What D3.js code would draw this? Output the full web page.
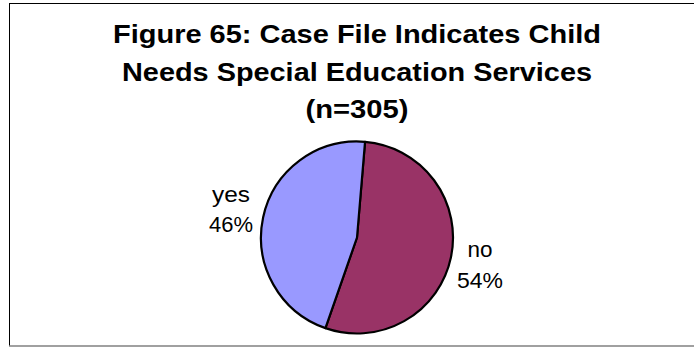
<!DOCTYPE html>
<html>
<head>
<meta charset="utf-8">
<script src="https://cdn.jsdelivr.net/npm/d3@7"></script>
<style>
  html, body { margin: 0; padding: 0; background: #fff; }
  svg { display: block; }
</style>
</head>
<body>
<svg id="chart" width="694" height="347"></svg>
<script>
const titleLines = ["Figure 65: Case File Indicates Child", "Needs Special Education Services", "(n=305)"];
const categories = ["no", "yes"];
const values = [54, 46];
const valueLabels = ["54%", "46%"];
const colors = ["#993366", "#9999FF"];

const svg = d3.select("#chart");

// frame
svg.append("line").attr("x1", 9.5).attr("x2", 9.5).attr("y1", 3.5).attr("y2", 346).attr("stroke", "#000").attr("stroke-width", 1);
svg.append("line").attr("x1", 9).attr("x2", 694).attr("y1", 3.5).attr("y2", 3.5).attr("stroke", "#000").attr("stroke-width", 1);
svg.append("line").attr("x1", 9).attr("x2", 694).attr("y1", 346).attr("y2", 346).attr("stroke", "#808080").attr("stroke-width", 1.5);

// title
const titleY = [43, 80.5, 117.5];
const titleW = [488, 470, 103];
svg.append("g").selectAll("text").data(titleLines).join("text")
  .attr("x", 357)
  .attr("y", (d, i) => titleY[i])
  .attr("text-anchor", "middle")
  .attr("font-family", "'Liberation Sans', Arial, sans-serif")
  .attr("font-weight", "bold")
  .attr("font-size", 26.5)
  .attr("textLength", (d, i) => titleW[i])
  .attr("lengthAdjust", "spacingAndGlyphs")
  .attr("fill", "#000")
  .text(d => d);

// pie
const cx = 357, cy = 237.5, r = 96;
const startDeg = 4.8;
const pie = d3.pie().sort(null)
  .startAngle(startDeg * Math.PI / 180)
  .endAngle((startDeg + 360) * Math.PI / 180);
const arcs = pie(values);
const arc = d3.arc().innerRadius(0).outerRadius(r);

const g = svg.append("g").attr("transform", `translate(${cx},${cy})`);
g.selectAll("path").data(arcs).join("path")
  .attr("d", arc)
  .attr("fill", (d, i) => colors[i])
  .attr("stroke", "#000")
  .attr("stroke-width", 2.2)
  .attr("stroke-linejoin", "round");

// labels
const labelPos = [
  { x: 480, y1: 257, y2: 288, w1: 25, w2: 46 },
  { x: 231, y1: 202, y2: 232, w1: 38, w2: 44 }
];
categories.forEach((c, i) => {
  const p = labelPos[i];
  const base = () => svg.append("text")
    .attr("text-anchor", "middle")
    .attr("font-family", "'Liberation Sans', Arial, sans-serif")
    .attr("font-size", 22)
    .attr("lengthAdjust", "spacingAndGlyphs")
    .attr("fill", "#000");
  base().attr("x", p.x).attr("y", p.y1).attr("textLength", p.w1).text(c);
  base().attr("x", p.x).attr("y", p.y2).attr("textLength", p.w2).text(valueLabels[i]);
});
</script>
</body>
</html>
